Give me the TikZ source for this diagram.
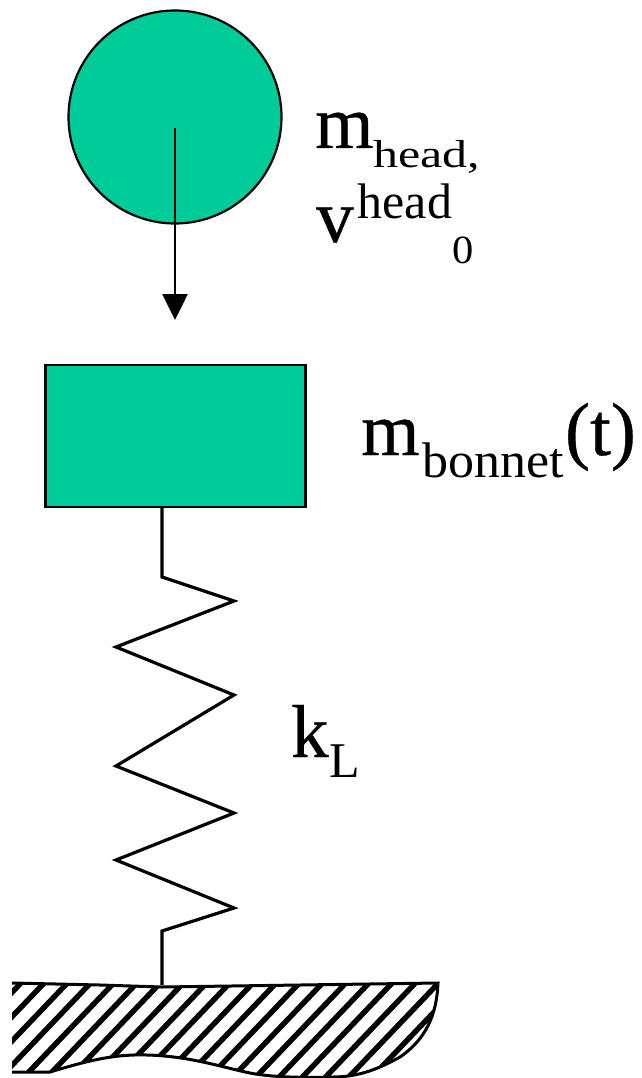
\documentclass[tikz,border=0pt]{standalone}
\usepackage{fontspec}
\setmainfont{Liberation Serif}
\usetikzlibrary{arrows.meta}
\newfontfamily\boldishfam[FakeBold=0.5]{Liberation Serif}
\newcommand{\bigf}{\boldishfam\fontsize{75}{75}\selectfont}
\newcommand{\smallf}{\rmfamily\fontsize{50}{50}\selectfont}
\newcommand{\lowtxt}[2]{\raisebox{#1pt}{\smallf #2}}
\definecolor{bodygreen}{RGB}{0,204,153}
\tikzset{
  body/.style={draw=black,line width=2.2pt,fill=bodygreen,inner sep=0pt},
  wire/.style={draw=black,line width=3.2pt,line join=miter},
  lab/.style={anchor=base west,inner sep=0pt,text=black},
}
\begin{document}
\begin{tikzpicture}[x=1pt,y=-1pt]
\useasboundingbox (0,0) rectangle (641,1078);
\fill[white] (0,0) rectangle (641,1078);
% ground
\begin{scope}
\clip (12,983) -- (100,985) -- (162,987) -- (300,985) -- (438,983)
  .. controls (437,1005) and (432,1035) .. (400,1057)
  .. controls (380,1068) and (360,1077) .. (333,1077)
  .. controls (300,1078) and (270,1077) .. (250,1073)
  .. controls (225,1068) and (190,1056) .. (147,1055)
  .. controls (115,1054) and (90,1060) .. (50,1072) -- (12,1072) -- cycle;
\foreach \i in {-2,...,24}
  \draw[black,line width=5.4pt] ({\i*23.2-30},1085) -- ({\i*23.2-30+105},975);
\end{scope}
\draw[black,line width=3pt] (12,983) -- (100,985) -- (162,987) -- (300,985) -- (438,983)
  .. controls (437,1005) and (432,1035) .. (400,1057)
  .. controls (380,1068) and (360,1077) .. (333,1077)
  .. controls (300,1078) and (270,1077) .. (250,1073)
  .. controls (225,1068) and (190,1056) .. (147,1055)
  .. controls (115,1054) and (90,1060) .. (50,1072) -- (12,1072);
% bodies
\node[body,circle,minimum size=213pt] (head) at (175,117) {};
\node[body,rectangle,minimum width=260pt,minimum height=142pt] (bonnet) at (175.5,436) {};
\coordinate (headc) at (175,128);
\coordinate (tip) at (175,320);
\coordinate (ground) at (162,985);
\draw[black,line width=2.6pt,-{Triangle[length=26pt,width=25pt]}] (headc) -- (tip);
% spring
\draw[wire] (162,507) -- (162,577) -- (234,601) -- (116,647) -- (234,695) -- (116,766)
  -- (234,813) -- (116,860) -- (234,908) -- (162,931) -- (ground);
% labels
\node[lab] (lm) at (315,148) {\bigf m\lowtxt{-20}{\scalebox{1}[0.78]{head,}}};
\node[lab] (lv) at (316,242) {\bigf v\kern4pt\lowtxt{24}{head}\lowtxt{-21}{\kern0pt\scalebox{0.85}[0.8]{0}}};
\node[lab] (lb) at (361,455) {\bigf m\kern3pt\lowtxt{-22}{\scalebox{1.04}[1]{bonnet}}\kern1pt(t)};
\node[lab] (lk) at (291,757) {\bigf k\lowtxt{-20}{\kern1pt L}};
\end{tikzpicture}
\end{document}
